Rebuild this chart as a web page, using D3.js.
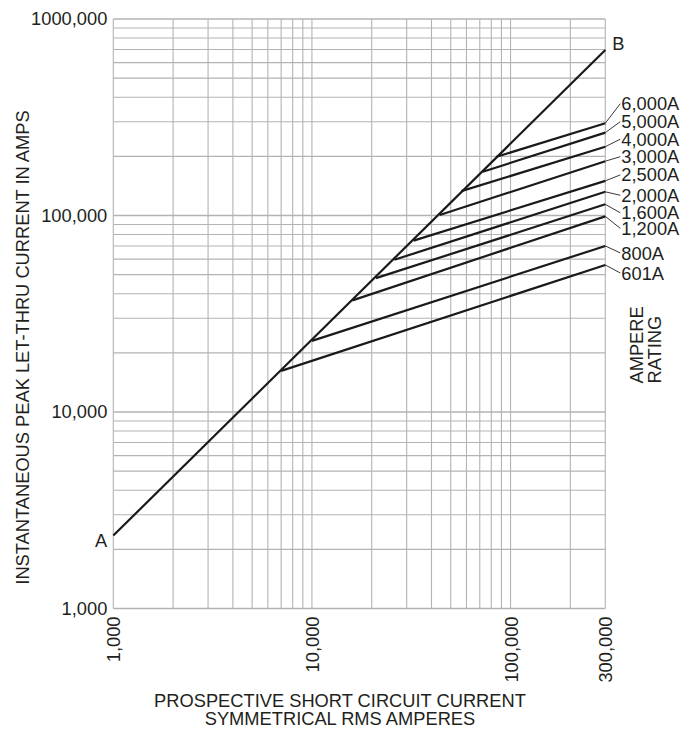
<!DOCTYPE html>
<html>
<head>
<meta charset="utf-8">
<script src="https://cdn.jsdelivr.net/npm/d3@7"></script>
<style>
  body { margin: 0; background: #fff; }
  text { font-family: "Liberation Sans", Arial, sans-serif; fill: #231f20; }
</style>
</head>
<body>
<script>
// chart data
const xTicks      = [1000, 10000, 100000, 300000];
const xTickLabels = ['1,000', '10,000', '100,000', '300,000'];
const yTicks      = [1000, 10000, 100000, 1000000];
const yTickLabels = ['1,000', '10,000', '100,000', '1000,000'];

// line A-B (prospective current, peak let-thru)
const abCurrent = [1000, 300000];
const abPeak    = [2350, 695000];

// ampere rating curves: start on A-B, end at 300,000 A
const ratings      = ['601A', '800A', '1,200A', '1,600A', '2,000A', '2,500A', '3,000A', '4,000A', '5,000A', '6,000A'];
const startCurrent = [7000, 10000, 16000, 21000, 26000, 32500, 44000, 56500, 72500, 85000];
const startPeak    = [16200, 23000, 37000, 48000, 59500, 74500, 100500, 133000, 167000, 199000];
const endPeak      = [56000, 70000, 99000, 114000, 132000, 150000, 189000, 224000, 264000, 295000];

// layout only: label midline offset (px) from each line end
const labelShift = [8, 7, 12, 8.5, 3.5, -6, -4.5, -7.5, -11, -19.5];

const W = 687, H = 730;
const fs = 18.3;
const font = '"Liberation Sans", Arial, sans-serif';

const x = d3.scaleLog().domain([1000, 300000]).range([113.3, 605.3]);
const y = d3.scaleLog().domain([1000, 1000000]).range([608.5, 19]);

const svg = d3.select('body').append('svg')
    .attr('width', W)
    .attr('height', H);

// grid
const grid = svg.append('g');
grid.selectAll('.gx')
    .data(x.ticks())
    .enter().append('line')
    .attr('x1', d => x(d)).attr('x2', d => x(d))
    .attr('y1', y(1000)).attr('y2', y(1000000))
    .attr('stroke', '#b3b3b3')
    .attr('stroke-width', 1.1);
grid.selectAll('.gy')
    .data(y.ticks())
    .enter().append('line')
    .attr('x1', x(1000)).attr('x2', x(300000))
    .attr('y1', d => y(d)).attr('y2', d => y(d))
    .attr('stroke', '#b3b3b3')
    .attr('stroke-width', d => yTicks.includes(d) ? 1.6 : 1.1);

// axes (labels only)
const xAxis = svg.append('g')
    .attr('transform', 'translate(0,' + y(1000) + ')')
    .call(d3.axisBottom(x).tickValues(xTicks).tickFormat((d, i) => xTickLabels[i]).tickSize(0));
xAxis.select('.domain').remove();
xAxis.selectAll('text')
    .attr('transform', 'rotate(-90)')
    .attr('x', -8)
    .attr('y', 0)
    .attr('dy', '0.36em')
    .attr('text-anchor', 'end')
    .style('font-size', fs + 'px')
    .style('font-family', font)
    .attr('fill', '#231f20');

const yAxis = svg.append('g')
    .attr('transform', 'translate(' + x(1000) + ',0)')
    .call(d3.axisLeft(y).tickValues(yTicks).tickFormat((d, i) => yTickLabels[i]).tickSize(0));
yAxis.select('.domain').remove();
yAxis.selectAll('text')
    .attr('x', -6)
    .style('font-size', fs + 'px')
    .style('font-family', font)
    .attr('fill', '#231f20');

// line A-B
const line = d3.line().x(d => x(d[0])).y(d => y(d[1]));
svg.append('path')
    .attr('d', line(abCurrent.map((c, i) => [c, abPeak[i]])))
    .attr('fill', 'none')
    .attr('stroke', '#1a1a1a')
    .attr('stroke-width', 2.2);

svg.append('text')
    .attr('x', x(abCurrent[0]) - 6).attr('y', y(abPeak[0]) + 5)
    .attr('dy', '0.36em').attr('text-anchor', 'end')
    .style('font-size', fs + 'px').text('A');
svg.append('text')
    .attr('x', x(abCurrent[1]) + 7).attr('y', y(abPeak[1]) - 7)
    .attr('dy', '0.36em')
    .style('font-size', fs + 'px').text('B');

// rating lines
ratings.forEach((r, i) => {
  svg.append('path')
      .attr('d', line([[startCurrent[i], startPeak[i]], [300000, endPeak[i]]]))
      .attr('fill', 'none')
      .attr('stroke', '#1a1a1a')
      .attr('stroke-width', 2.2);

  const ye = y(endPeak[i]);
  const yl = ye + labelShift[i];
  svg.append('line')
      .attr('x1', x(300000)).attr('y1', ye)
      .attr('x2', x(300000) + 15).attr('y2', yl)
      .attr('stroke', '#231f20')
      .attr('stroke-width', 0.9);
  svg.append('text')
      .attr('x', x(300000) + 16).attr('y', yl)
      .attr('dy', '0.36em')
      .style('font-size', fs + 'px')
      .text(r);
});

// AMPERE RATING
svg.append('text')
    .attr('transform', 'translate(642.5,383.5) rotate(-90)')
    .style('font-size', fs + 'px').text('AMPERE');
svg.append('text')
    .attr('transform', 'translate(661,383.5) rotate(-90)')
    .style('font-size', fs + 'px').text('RATING');

// axis titles
svg.append('text')
    .attr('transform', 'translate(28.5,347.5) rotate(-90)')
    .attr('text-anchor', 'middle')
    .style('font-size', fs + 'px')
    .text('INSTANTANEOUS PEAK LET-THRU CURRENT IN AMPS');
svg.append('text')
    .attr('x', 340).attr('y', 707)
    .attr('text-anchor', 'middle')
    .style('font-size', fs + 'px')
    .text('PROSPECTIVE SHORT CIRCUIT CURRENT');
svg.append('text')
    .attr('x', 340).attr('y', 725)
    .attr('text-anchor', 'middle')
    .style('font-size', fs + 'px')
    .text('SYMMETRICAL RMS AMPERES');
</script>
</body>
</html>
